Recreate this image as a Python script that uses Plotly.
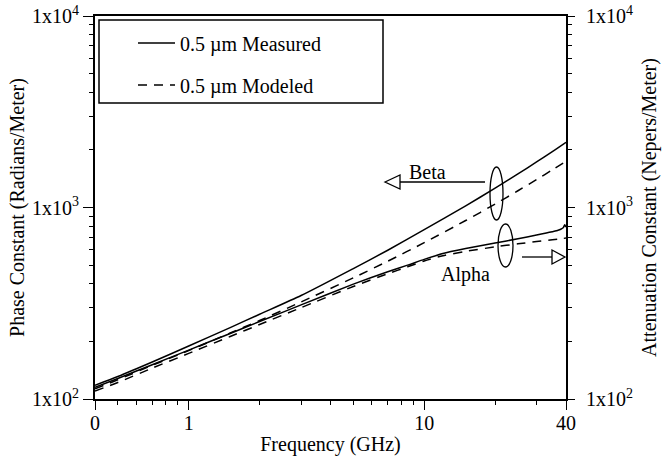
import math
import plotly.graph_objects as go

# ---------------- data ----------------
freq_beta = [0.4, 0.5, 0.7, 1, 1.5, 2, 3, 5, 7, 10, 15, 20, 25, 30, 35, 40]
beta_measured = [118, 131, 156, 189, 236, 277, 347, 480, 598, 766, 1020, 1261, 1497, 1729, 1958, 2190]
beta_modeled = [113, 126, 150, 179, 221, 257, 321, 429, 524, 655, 855, 1042, 1223, 1399, 1573, 1744]

freq_alpha_meas = [0.4, 0.5, 0.7, 1, 1.5, 2, 3, 5, 7, 8.5, 10, 12, 15, 20, 25, 30, 33, 35, 37, 38, 39, 39.5, 40]
alpha_measured = [115, 128, 151, 180, 220, 254, 310, 398, 462, 500, 536, 575, 610, 652, 687, 718, 736, 748, 760, 770, 786, 812, 790]
freq_alpha_mod = [0.4, 0.5, 0.7, 1, 1.5, 2, 3, 5, 7, 8.5, 10, 12, 15, 20, 25, 30, 35, 40]
alpha_modeled = [110, 122, 145, 173, 212, 245, 300, 387, 451, 490, 526, 560, 590, 623, 646, 664, 679, 692]

x_tickvals = [0.4, 1, 10, 40]
x_ticktext = ["0", "1", "10", "40"]
x_minor = [0.5, 0.6, 0.7, 0.8, 0.9, 2, 3, 4, 5, 6, 7, 8, 9, 20, 30]
y_tickvals = [100, 1000, 10000]
y_ticktext = ["1x10<sup>2</sup>", "1x10<sup>3</sup>", "1x10<sup>4</sup>"]
y_minor = [200, 300, 400, 500, 600, 700, 800, 900, 2000, 3000, 4000, 5000, 6000, 7000, 8000, 9000]

# ---------------- layout geometry ----------------
W, H = 671, 456
L, R, T, B = 95, 566, 16, 399   # plot area in pixels


def px(x):
    return (x - L) / (R - L)


def py(y):
    return (B - y) / (B - T)


def path(points):
    return "M " + " L ".join(f"{px(a):.5f},{py(b):.5f}" for a, b in points) + " Z"


FONT = "Liberation Serif"
FS = 20
lw = 1.5

fig = go.Figure()
fig.add_trace(go.Scatter(x=freq_beta, y=beta_measured, mode="lines", name="0.5 µm Measured",
                         legendgroup="a", line=dict(color="black", width=lw, shape="spline", smoothing=0.6),
                         yaxis="y"))
fig.add_trace(go.Scatter(x=freq_beta, y=beta_modeled, mode="lines", name="0.5 µm Modeled",
                         legendgroup="b",
                         line=dict(color="black", width=lw, dash="9px,7px", shape="spline", smoothing=0.6),
                         yaxis="y"))
fig.add_trace(go.Scatter(x=freq_alpha_meas, y=alpha_measured, mode="lines", name="Alpha measured",
                         showlegend=False, line=dict(color="black", width=lw, shape="spline", smoothing=0.5),
                         yaxis="y2"))
fig.add_trace(go.Scatter(x=freq_alpha_mod, y=alpha_modeled, mode="lines", name="Alpha modeled",
                         showlegend=False,
                         line=dict(color="black", width=lw, dash="9px,7px", shape="spline", smoothing=0.6),
                         yaxis="y2"))

axis_common = dict(showgrid=False, zeroline=False, ticks="outside", tickcolor="black",
                   tickwidth=1.3, linecolor="black", linewidth=2, showline=True, automargin=False,
                   ticklabeloverflow="allow",
                   tickfont=dict(family=FONT, size=FS, color="black"))
minor_common = dict(ticks="outside", ticklen=4, tickwidth=1.2, tickcolor="black", showgrid=False)

fig.update_layout(
    width=W, height=H,
    margin=dict(l=L, r=W - R, t=T, b=H - B, pad=0, autoexpand=False),
    paper_bgcolor="white", plot_bgcolor="white",
    font=dict(family=FONT, size=FS, color="black"),
    xaxis=dict(type="log", range=[math.log10(0.4), math.log10(40)],
               tickvals=x_tickvals, ticktext=x_ticktext, ticklen=9, mirror=True,
               ticklabelstandoff=-4,
               minor=dict(tickvals=x_minor, **minor_common),
               title=dict(text="Frequency (GHz)", standoff=4, font=dict(family=FONT, size=FS)),
               **axis_common),
    yaxis=dict(type="log", range=[2, 4], tickvals=y_tickvals, ticktext=y_ticktext, ticklen=10,
               minor=dict(tickvals=y_minor, **minor_common),
               title=dict(text="Phase Constant (Radians/Meter)", standoff=2,
                          font=dict(family=FONT, size=FS)),
               **axis_common),
    yaxis2=dict(type="log", range=[2, 4], overlaying="y", side="right",
                tickvals=y_tickvals, ticktext=y_ticktext, ticklen=7, ticklabelstandoff=7,
                minor=dict(tickvals=y_minor, **minor_common),
                title=dict(text="Attenuation Constant (Nepers/Meter)", standoff=10,
                           font=dict(family=FONT, size=FS)),
                **axis_common),
    legend=dict(x=px(133), y=py(23.5), xanchor="left", yanchor="top",
                bgcolor="rgba(0,0,0,0)", borderwidth=0, traceorder="grouped",
                tracegroupgap=13, itemwidth=37,
                font=dict(family=FONT, size=FS, color="black")),
    showlegend=True,
)

shapes = [
    # legend frame
    dict(type="rect", xref="paper", yref="paper", x0=px(99), x1=px(383), y0=py(103), y1=py(20),
         line=dict(color="black", width=1.5)),
    # Beta ellipse
    dict(type="circle", xref="paper", yref="paper", x0=px(490), x1=px(503), y0=py(220), y1=py(167),
         line=dict(color="black", width=1.3)),
    # Alpha ellipse
    dict(type="circle", xref="paper", yref="paper", x0=px(498), x1=px(513), y0=py(267), y1=py(224),
         line=dict(color="black", width=1.3)),
    # Beta arrow (points left)
    dict(type="line", xref="paper", yref="paper", x0=px(400), x1=px(485), y0=py(182), y1=py(182),
         line=dict(color="black", width=1.3)),
    dict(type="path", xref="paper", yref="paper", path=path([(385, 182), (400, 175), (400, 189)]),
         line=dict(color="black", width=1.3), fillcolor="white"),
    # Alpha arrow (points right)
    dict(type="line", xref="paper", yref="paper", x0=px(522), x1=px(552), y0=py(257), y1=py(257),
         line=dict(color="black", width=1.3)),
    dict(type="path", xref="paper", yref="paper", path=path([(565, 257), (552, 250), (552, 264)]),
         line=dict(color="black", width=1.3), fillcolor="white"),
]
fig.update_layout(shapes=shapes)

fig.add_annotation(text="Beta", xref="paper", yref="paper", x=px(448), y=py(172),
                   showarrow=False, font=dict(family=FONT, size=FS, color="black"))
fig.add_annotation(text="Alpha", xref="paper", yref="paper", x=px(492), y=py(288),
                   showarrow=False, font=dict(family=FONT, size=FS, color="black"))

# remove the browser's default 8px page margin so the figure fills the window exactly
fig.write_html("out.html", config={"displayModeBar": False},
               post_script="document.body.style.margin='0px';")
